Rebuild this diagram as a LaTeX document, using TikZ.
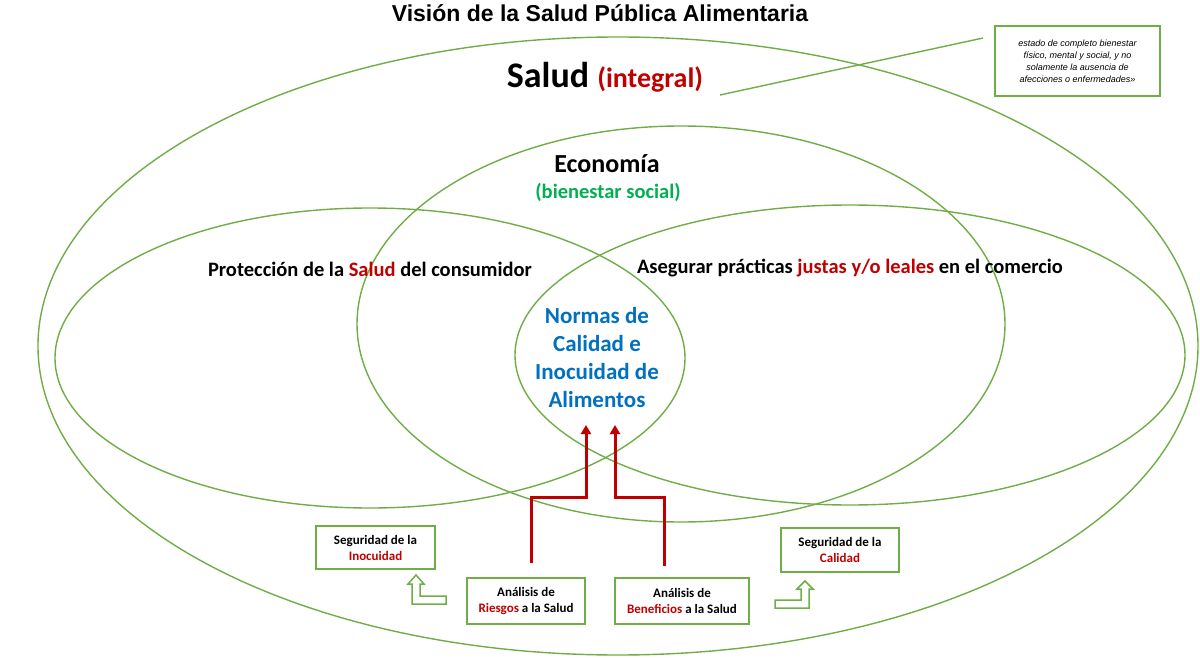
\documentclass[tikz,border=0pt]{standalone}
\usepackage{fontspec}
\setmainfont{Carlito}
\newfontfamily\arialfont{Liberation Sans}
\usetikzlibrary{arrows.meta,calc}

\definecolor{ringgreen}{HTML}{70AD47}
\definecolor{darkred}{HTML}{C00000}
\definecolor{normblue}{HTML}{0070C0}
\definecolor{socialgreen}{HTML}{00B050}

\begin{document}
\begin{tikzpicture}[
  x=1pt, y=-1pt,
  ring/.style={draw=ringgreen, line width=1.4pt},
  label/.style={anchor=base, inner sep=0pt},
  secbox/.style={draw=ringgreen, line width=1.8pt, fill=white, align=center,
    font=\fontsize{13}{16}\selectfont\bfseries, inner sep=2pt},
  notebox/.style={draw=ringgreen, line width=1.8pt, align=center,
    minimum width=165, minimum height=70,
    font=\arialfont\itshape\fontsize{9}{12}\selectfont},
  redarrow/.style={draw=darkred, line width=3pt, -{Triangle[length=9pt,width=10pt]}},
  hollow/.style={draw=ringgreen, line width=1.5pt, line join=miter}
]
  \useasboundingbox (0,0) rectangle (1200,658);

  % ellipses
  \draw[ring] (618,346) ellipse [x radius=580, y radius=309];
  \draw[ring] (681,324) ellipse [x radius=324, y radius=198];
  \draw[ring] (370,358) ellipse [x radius=315, y radius=150];
  \draw[ring] (850,355) ellipse [x radius=335, y radius=150];

  % titles
  \node[label, font=\arialfont\fontsize{23}{26}\selectfont\bfseries] (title) at (600,22)
    {Visión de la Salud Pública Alimentaria};
  \node[label, font=\fontsize{36}{40}\selectfont\bfseries] (salud) at (605,88)
    {Salud \textcolor{darkred}{\fontsize{28}{30}\selectfont(integral)}};
  \node[label, font=\fontsize{26}{28}\selectfont\bfseries] (econ) at (607,173) {Economía};
  \node[label, font=\fontsize{20.5}{24}\selectfont\bfseries, text=socialgreen] (social) at (608,199)
    {(bienestar social)};
  \node[label, font=\fontsize{20.5}{24}\selectfont\bfseries] (prot) at (370,276)
    {Protección de la \textcolor{darkred}{Salud} del consumidor};
  \node[label, font=\fontsize{20.5}{24}\selectfont\bfseries] (fair) at (850,273)
    {Asegurar prácticas \textcolor{darkred}{justas y/o leales} en el comercio};
  \node[align=center, inner sep=0pt, text=normblue, font=\fontsize{23}{28}\selectfont\bfseries]
    (normas) at (597,358) {Normas de\\Calidad e\\Inocuidad de\\Alimentos};

  % note
  \node[notebox] (note) at (1077.5,61)
    {estado de completo bienestar\\físico, mental y social, y no\\solamente la ausencia de\\afecciones o enfermedades»};
  \coordinate (notefoot) at (720,95);
  \coordinate (notetip) at (983,38);
  \draw[ringgreen, line width=1.4pt] (notefoot) -- (notetip);

  % boxes
  \node[secbox, minimum width=119, minimum height=43] (inocuidad) at (375.5,547.5)
    {Seguridad de la\\\textcolor{darkred}{Inocuidad}};
  \node[secbox, minimum width=118, minimum height=44] (calidad) at (840,550)
    {Seguridad de la\\\textcolor{darkred}{Calidad}};
  \node[secbox, minimum width=118, minimum height=46] (riesgos) at (526,601)
    {Análisis de\\\textcolor{darkred}{Riesgos} a la Salud};
  \node[secbox, minimum width=134, minimum height=46] (beneficios) at (682,601)
    {Análisis de\\\textcolor{darkred}{Beneficios} a la Salud};

  % red arrows
  \coordinate (riskfoot) at (531,563);
  \coordinate (riskhead) at (586,425);
  \coordinate (benefoot) at (664,566);
  \coordinate (benehead) at (615,425);
  \draw[redarrow] (riskfoot) -- ++(0,-66) -| (riskhead);
  \draw[redarrow] (benefoot) -- ++(0,-69) -| (benehead);

  % hollow bent arrows
  \draw[hollow] (416,575) -- (424,584) -- (420,584) -- (420,596) -- (446,596)
    -- (446,604) -- (412,604) -- (412,584) -- (408,584) -- cycle;
  \draw[hollow] (805,581) -- (813,589) -- (809,589) -- (809,608) -- (775,608)
    -- (775,600) -- (801,600) -- (801,589) -- (797,589) -- cycle;
\end{tikzpicture}
\end{document}
